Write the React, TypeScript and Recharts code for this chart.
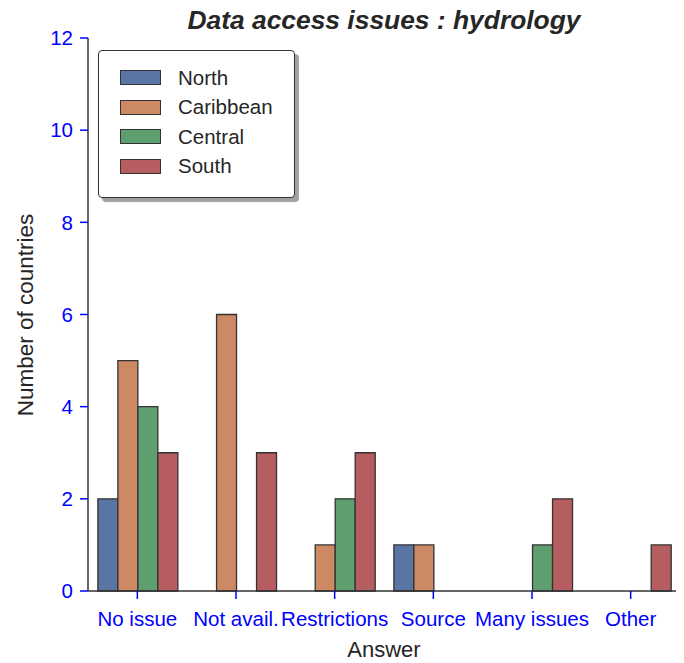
import React from 'react';
import { BarChart, Bar, XAxis, YAxis } from 'recharts';

const categories = ['No issue', 'Not avail.', 'Restrictions', 'Source', 'Many issues', 'Other'];
const north = [2, 0, 0, 1, 0, 0];
const caribbean = [5, 6, 1, 1, 0, 0];
const central = [4, 0, 2, 0, 1, 0];
const south = [3, 3, 3, 0, 2, 1];
const yTicks = [0, 2, 4, 6, 8, 10, 12];

const seriesNames = ['North', 'Caribbean', 'Central', 'South'];
const seriesColors = ['#5975A4', '#CC8963', '#5F9E6E', '#B55D60'];

const data = categories.map((c, i) => ({
  answer: c,
  North: north[i],
  Caribbean: caribbean[i],
  Central: central[i],
  South: south[i],
}));

const FONT = '"Liberation Sans", Arial, Helvetica, sans-serif';
const EDGE = '#333333';
const BLUE = '#0000FF';
const TICK_FS = 20.5;

const LegendBox = () => (
  <div
    style={{
      position: 'absolute',
      left: 90,
      top: 42,
      width: 197,
      height: 148,
      border: `1.3px solid ${EDGE}`,
      borderRadius: 4,
      background: '#fff',
      boxShadow: '4px 4px 1px #a0a0a0',
      boxSizing: 'border-box',
      paddingTop: 12,
      paddingLeft: 21,
      fontFamily: FONT,
      zIndex: 3,
    }}
  >
    {seriesNames.map((n, i) => (
      <div key={n} style={{ display: 'flex', alignItems: 'center', height: 29.5 }}>
        <div
          style={{
            width: 41,
            height: 15,
            background: seriesColors[i],
            border: `1.3px solid ${EDGE}`,
            boxSizing: 'border-box',
          }}
        />
        <span style={{ marginLeft: 17, fontSize: 20.5, color: '#262626', lineHeight: '24px' }}>{n}</span>
      </div>
    ))}
  </div>
);

const YLabel = () => (
  <text
    x={17}
    y={307}
    transform="rotate(-90, 17, 307)"
    textAnchor="middle"
    dominantBaseline="central"
    fill="#262626"
    fontSize={22.5}
    fontFamily={FONT}
  >
    Number of countries
  </text>
);

const XLabel = () => (
  <text x={376} y={641} textAnchor="middle" dominantBaseline="central" fill="#262626" fontSize={22} fontFamily={FONT}>
    Answer
  </text>
);

export default function App() {
  return (
    <div style={{ position: 'relative', width: 676, height: 655 }}>
      <div
        style={{
          position: 'absolute',
          left: 80,
          width: 592,
          top: -1,
          lineHeight: '26px',
          textAlign: 'center',
          fontFamily: FONT,
          fontWeight: 'bold',
          fontStyle: 'italic',
          fontSize: 26.4,
          color: '#262626',
          zIndex: 2,
        }}
      >
        Data access issues : hydrology
      </div>
      <LegendBox />
      <BarChart
        width={676}
        height={655}
        data={data}
        margin={{ top: 30, right: 4, bottom: 0, left: 0 }}
        barCategoryGap="10%"
        barGap={0}
      >
        <XAxis
          dataKey="answer"
          height={72}
          axisLine={{ stroke: EDGE, strokeWidth: 1.5 }}
          tickLine={{ stroke: BLUE, strokeWidth: 1.5 }}
          tickSize={8}
          tickMargin={12}
          tick={{ fill: BLUE, fontSize: TICK_FS, fontFamily: FONT }}
          interval={0}
          label={{ content: XLabel }}
        />
        <YAxis
          width={80}
          domain={[0, 12]}
          ticks={yTicks}
          axisLine={{ stroke: EDGE, strokeWidth: 1.5 }}
          tickLine={{ stroke: BLUE, strokeWidth: 1.5 }}
          tickSize={8}
          tickMargin={7}
          tick={{ fill: BLUE, fontSize: TICK_FS, fontFamily: FONT }}
          label={{ content: YLabel }}
        />
        {seriesNames.map((n, i) => (
          <Bar
            key={n}
            dataKey={n}
            fill={seriesColors[i]}
            stroke={EDGE}
            strokeWidth={1.3}
            isAnimationActive={false}
          />
        ))}
      </BarChart>
    </div>
  );
}
